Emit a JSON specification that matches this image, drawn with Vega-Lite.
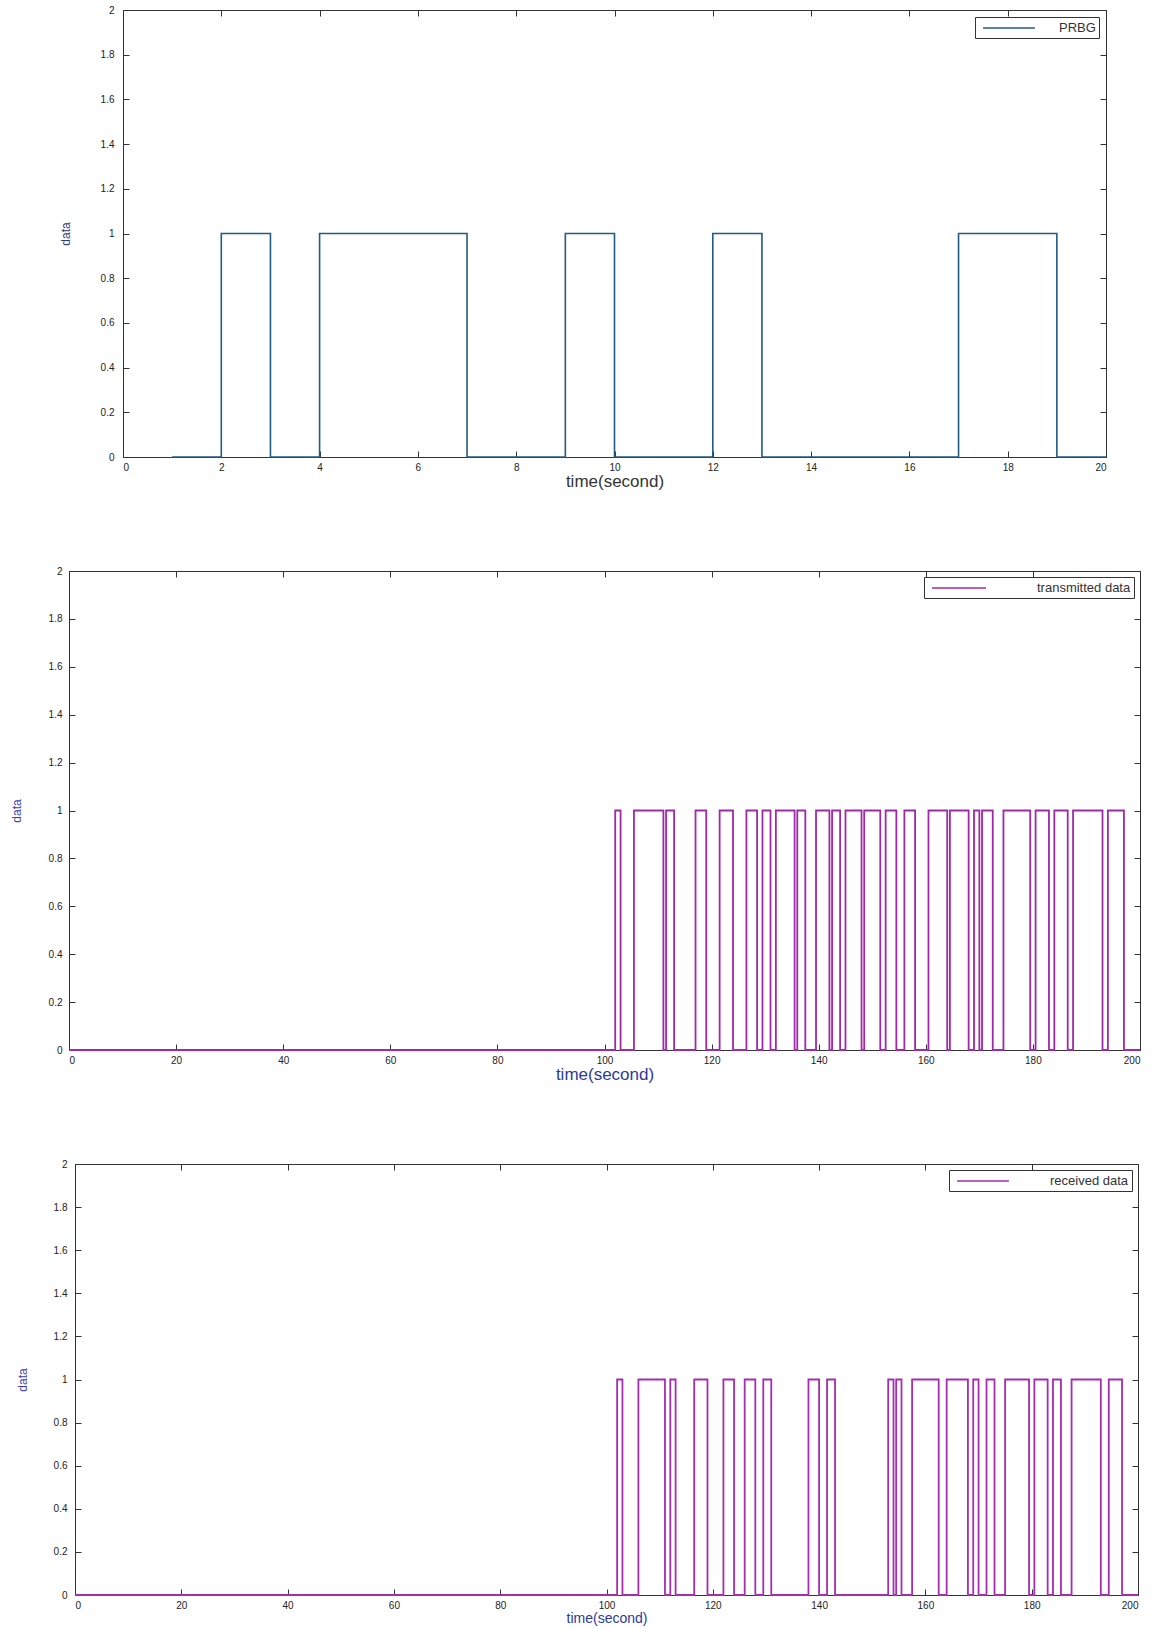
{
  "$schema": "https://vega.github.io/schema/vega-lite/v6.json",
  "padding": {"left": 0, "top": 4, "right": 0, "bottom": 0},
  "background": "white",
  "spacing": 75,
  "resolve": {"scale": {"color": "independent"}, "legend": {"color": "independent"}},
  "config": {
    "font": "Liberation Sans",
    "view": {"stroke": "#333", "strokeWidth": 1},
    "axis": {
      "grid": false,
      "domain": false,
      "tickColor": "#333",
      "tickSize": -6,
      "labelColor": "#222",
      "labelFontSize": 10,
      "titleFontWeight": "normal"
    },
    "axisX": {"labelPadding": 11},
    "legend": {
      "orient": "top-right",
      "offset": 6,
      "title": null,
      "strokeColor": "#333",
      "fillColor": "white",
      "padding": 3,
      "symbolSize": 196,
      "symbolStrokeWidth": 1.5,
      "labelFontSize": 13,
      "labelColor": "#333",
      "cornerRadius": 0
    }
  },
  "datasets": {
    "prbg": [
      {"t": 1, "v": 0, "s": "PRBG"}, {"t": 2, "v": 1, "s": "PRBG"}, {"t": 3, "v": 0, "s": "PRBG"},
      {"t": 4, "v": 1, "s": "PRBG"}, {"t": 7, "v": 0, "s": "PRBG"}, {"t": 9, "v": 1, "s": "PRBG"},
      {"t": 10, "v": 0, "s": "PRBG"}, {"t": 12, "v": 1, "s": "PRBG"}, {"t": 13, "v": 0, "s": "PRBG"},
      {"t": 17, "v": 1, "s": "PRBG"}, {"t": 19, "v": 0, "s": "PRBG"}, {"t": 20, "v": 0, "s": "PRBG"}
    ],
    "tx": [
      {"t": 0, "v": 0, "s": "transmitted data"}, {"t": 102, "v": 1, "s": "transmitted data"}, {"t": 103, "v": 0, "s": "transmitted data"},
      {"t": 105.5, "v": 1, "s": "transmitted data"}, {"t": 111, "v": 0, "s": "transmitted data"}, {"t": 111.5, "v": 1, "s": "transmitted data"},
      {"t": 113, "v": 0, "s": "transmitted data"}, {"t": 117, "v": 1, "s": "transmitted data"}, {"t": 119, "v": 0, "s": "transmitted data"},
      {"t": 121.5, "v": 1, "s": "transmitted data"}, {"t": 124, "v": 0, "s": "transmitted data"}, {"t": 126.5, "v": 1, "s": "transmitted data"},
      {"t": 128.5, "v": 0, "s": "transmitted data"}, {"t": 129.5, "v": 1, "s": "transmitted data"}, {"t": 131, "v": 0, "s": "transmitted data"},
      {"t": 132, "v": 1, "s": "transmitted data"}, {"t": 135.5, "v": 0, "s": "transmitted data"}, {"t": 136, "v": 1, "s": "transmitted data"},
      {"t": 137.5, "v": 0, "s": "transmitted data"}, {"t": 139.5, "v": 1, "s": "transmitted data"}, {"t": 142, "v": 0, "s": "transmitted data"},
      {"t": 142.5, "v": 1, "s": "transmitted data"}, {"t": 144, "v": 0, "s": "transmitted data"}, {"t": 145, "v": 1, "s": "transmitted data"},
      {"t": 148, "v": 0, "s": "transmitted data"}, {"t": 148.5, "v": 1, "s": "transmitted data"}, {"t": 151.5, "v": 0, "s": "transmitted data"},
      {"t": 152.5, "v": 1, "s": "transmitted data"}, {"t": 154.5, "v": 0, "s": "transmitted data"}, {"t": 156, "v": 1, "s": "transmitted data"},
      {"t": 158, "v": 0, "s": "transmitted data"}, {"t": 160.5, "v": 1, "s": "transmitted data"}, {"t": 164, "v": 0, "s": "transmitted data"},
      {"t": 164.5, "v": 1, "s": "transmitted data"}, {"t": 168, "v": 0, "s": "transmitted data"}, {"t": 169, "v": 1, "s": "transmitted data"},
      {"t": 170, "v": 0, "s": "transmitted data"}, {"t": 170.5, "v": 1, "s": "transmitted data"}, {"t": 172.5, "v": 0, "s": "transmitted data"},
      {"t": 174.5, "v": 1, "s": "transmitted data"}, {"t": 179.5, "v": 0, "s": "transmitted data"}, {"t": 180.5, "v": 1, "s": "transmitted data"},
      {"t": 183, "v": 0, "s": "transmitted data"}, {"t": 184, "v": 1, "s": "transmitted data"}, {"t": 186.5, "v": 0, "s": "transmitted data"},
      {"t": 187.5, "v": 1, "s": "transmitted data"}, {"t": 193, "v": 0, "s": "transmitted data"}, {"t": 194, "v": 1, "s": "transmitted data"},
      {"t": 197, "v": 0, "s": "transmitted data"}, {"t": 200, "v": 0, "s": "transmitted data"}
    ],
    "rx": [
      {"t": 0, "v": 0, "s": "received data"}, {"t": 102, "v": 1, "s": "received data"}, {"t": 103, "v": 0, "s": "received data"},
      {"t": 106, "v": 1, "s": "received data"}, {"t": 111, "v": 0, "s": "received data"}, {"t": 112, "v": 1, "s": "received data"},
      {"t": 113, "v": 0, "s": "received data"}, {"t": 116.5, "v": 1, "s": "received data"}, {"t": 119, "v": 0, "s": "received data"},
      {"t": 122, "v": 1, "s": "received data"}, {"t": 124, "v": 0, "s": "received data"}, {"t": 126, "v": 1, "s": "received data"},
      {"t": 128, "v": 0, "s": "received data"}, {"t": 129.5, "v": 1, "s": "received data"}, {"t": 131, "v": 0, "s": "received data"},
      {"t": 138, "v": 1, "s": "received data"}, {"t": 140, "v": 0, "s": "received data"}, {"t": 141.5, "v": 1, "s": "received data"},
      {"t": 143, "v": 0, "s": "received data"}, {"t": 153, "v": 1, "s": "received data"}, {"t": 154, "v": 0, "s": "received data"},
      {"t": 154.5, "v": 1, "s": "received data"}, {"t": 155.5, "v": 0, "s": "received data"}, {"t": 157.5, "v": 1, "s": "received data"},
      {"t": 162.5, "v": 0, "s": "received data"}, {"t": 164, "v": 1, "s": "received data"}, {"t": 168, "v": 0, "s": "received data"},
      {"t": 169, "v": 1, "s": "received data"}, {"t": 170, "v": 0, "s": "received data"}, {"t": 171.5, "v": 1, "s": "received data"},
      {"t": 173, "v": 0, "s": "received data"}, {"t": 175, "v": 1, "s": "received data"}, {"t": 179.5, "v": 0, "s": "received data"},
      {"t": 180.5, "v": 1, "s": "received data"}, {"t": 183, "v": 0, "s": "received data"}, {"t": 184, "v": 1, "s": "received data"},
      {"t": 185.5, "v": 0, "s": "received data"}, {"t": 187.5, "v": 1, "s": "received data"}, {"t": 193, "v": 0, "s": "received data"},
      {"t": 194.5, "v": 1, "s": "received data"}, {"t": 197, "v": 0, "s": "received data"}, {"t": 200, "v": 0, "s": "received data"}
    ]
  },
  "vconcat": [
    {
      "spacing": 0,
      "resolve": {"scale": {"color": "independent"}, "legend": {"color": "independent"}},
      "hconcat": [
        {"width": 58, "height": 1, "data": {"values": [{"z": 0}]}, "mark": {"type": "point", "opacity": 0}, "view": {"stroke": null}},
        {
          "width": 983,
          "height": 447,
          "data": {"name": "prbg"},
          "layer": [
            {
              "mark": {"type": "line", "interpolate": "step-after", "strokeWidth": 1.6},
              "encoding": {
                "x": {"field": "t", "type": "quantitative", "scale": {"domain": [0, 20], "nice": false},
                  "axis": {"orient": "bottom", "values": [0, 2, 4, 6, 8, 10, 12, 14, 16, 18, 20], "title": "time(second)", "titleFontSize": 17, "titleColor": "#333", "titlePadding": 1}},
                "y": {"field": "v", "type": "quantitative", "scale": {"domain": [0, 2], "nice": false},
                  "axis": {"orient": "left", "values": [0, 0.2, 0.4, 0.6, 0.8, 1, 1.2, 1.4, 1.6, 1.8, 2], "format": "~g", "title": "data", "titleFontSize": 12, "titleColor": "#2f3a78", "labelPadding": 15, "minExtent": 32, "titlePadding": 19}},
                "color": {"field": "s", "type": "nominal", "scale": {"range": ["#235a82"]},
                  "legend": {"symbolType": "M-3.7,0H3.7", "symbolOffset": 23, "labelOffset": 42, "offset": 7}}
              }
            },
            {
              "mark": {"type": "line", "opacity": 0},
              "encoding": {
                "x": {"field": "t", "type": "quantitative", "scale": {"domain": [0, 20], "nice": false},
                  "axis": {"orient": "top", "values": [0, 2, 4, 6, 8, 10, 12, 14, 16, 18, 20], "labels": false, "title": null}},
                "y": {"field": "v", "type": "quantitative", "scale": {"domain": [0, 2], "nice": false},
                  "axis": {"orient": "right", "values": [0, 0.2, 0.4, 0.6, 0.8, 1, 1.2, 1.4, 1.6, 1.8, 2], "labels": false, "title": null}}
              }
            }
          ],
          "resolve": {"axis": {"x": "independent", "y": "independent"}}
        }
      ]
    },
    {
      "spacing": 0,
      "resolve": {"scale": {"color": "independent"}, "legend": {"color": "independent"}},
      "hconcat": [
        {"width": 9, "height": 1, "data": {"values": [{"z": 0}]}, "mark": {"type": "point", "opacity": 0}, "view": {"stroke": null}},
        {
          "width": 1071,
          "height": 479,
          "data": {"name": "tx"},
          "layer": [
            {
              "mark": {"type": "line", "interpolate": "step-after", "strokeWidth": 1.8},
              "encoding": {
                "x": {"field": "t", "type": "quantitative", "scale": {"domain": [0, 200], "nice": false},
                  "axis": {"orient": "bottom", "values": [0, 20, 40, 60, 80, 100, 120, 140, 160, 180, 200], "title": "time(second)", "titleFontSize": 17, "titleFontWeight": 500, "titleColor": "#2b3a9c", "titlePadding": 1}},
                "y": {"field": "v", "type": "quantitative", "scale": {"domain": [0, 2], "nice": false},
                  "axis": {"orient": "left", "values": [0, 0.2, 0.4, 0.6, 0.8, 1, 1.2, 1.4, 1.6, 1.8, 2], "format": "~g", "title": "data", "titleFontSize": 12, "titleColor": "#3a40b0", "labelPadding": 13, "minExtent": 32, "titlePadding": 14}},
                "color": {"field": "s", "type": "nominal", "scale": {"range": ["#9e2aa8"]},
                  "legend": {"symbolType": "M-3.86,0H3.86", "symbolOffset": 24, "labelOffset": 70}}
              }
            },
            {
              "mark": {"type": "line", "opacity": 0},
              "encoding": {
                "x": {"field": "t", "type": "quantitative", "scale": {"domain": [0, 200], "nice": false},
                  "axis": {"orient": "top", "values": [0, 20, 40, 60, 80, 100, 120, 140, 160, 180, 200], "labels": false, "title": null}},
                "y": {"field": "v", "type": "quantitative", "scale": {"domain": [0, 2], "nice": false},
                  "axis": {"orient": "right", "values": [0, 0.2, 0.4, 0.6, 0.8, 1, 1.2, 1.4, 1.6, 1.8, 2], "labels": false, "title": null}}
              }
            }
          ],
          "resolve": {"axis": {"x": "independent", "y": "independent"}}
        }
      ]
    },
    {
      "spacing": 0,
      "resolve": {"scale": {"color": "independent"}, "legend": {"color": "independent"}},
      "hconcat": [
        {"width": 15, "height": 1, "data": {"values": [{"z": 0}]}, "mark": {"type": "point", "opacity": 0}, "view": {"stroke": null}},
        {
          "width": 1063,
          "height": 431,
          "data": {"name": "rx"},
          "layer": [
            {
              "mark": {"type": "line", "interpolate": "step-after", "strokeWidth": 1.8},
              "encoding": {
                "x": {"field": "t", "type": "quantitative", "scale": {"domain": [0, 200], "nice": false},
                  "axis": {"orient": "bottom", "values": [0, 20, 40, 60, 80, 100, 120, 140, 160, 180, 200], "title": "time(second)", "titleFontSize": 14, "titleFontWeight": 500, "titleColor": "#2b3a9c", "titlePadding": 1}},
                "y": {"field": "v", "type": "quantitative", "scale": {"domain": [0, 2], "nice": false},
                  "axis": {"orient": "left", "values": [0, 0.2, 0.4, 0.6, 0.8, 1, 1.2, 1.4, 1.6, 1.8, 2], "format": "~g", "title": "data", "titleFontSize": 12, "titleColor": "#3a40b0", "labelPadding": 14, "minExtent": 32, "titlePadding": 14}},
                "color": {"field": "s", "type": "nominal", "scale": {"range": ["#a62db0"]},
                  "legend": {"symbolType": "M-3.7,0H3.7", "symbolOffset": 23, "labelOffset": 59}}
              }
            },
            {
              "mark": {"type": "line", "opacity": 0},
              "encoding": {
                "x": {"field": "t", "type": "quantitative", "scale": {"domain": [0, 200], "nice": false},
                  "axis": {"orient": "top", "values": [0, 20, 40, 60, 80, 100, 120, 140, 160, 180, 200], "labels": false, "title": null}},
                "y": {"field": "v", "type": "quantitative", "scale": {"domain": [0, 2], "nice": false},
                  "axis": {"orient": "right", "values": [0, 0.2, 0.4, 0.6, 0.8, 1, 1.2, 1.4, 1.6, 1.8, 2], "labels": false, "title": null}}
              }
            }
          ],
          "resolve": {"axis": {"x": "independent", "y": "independent"}}
        }
      ]
    }
  ]
}
